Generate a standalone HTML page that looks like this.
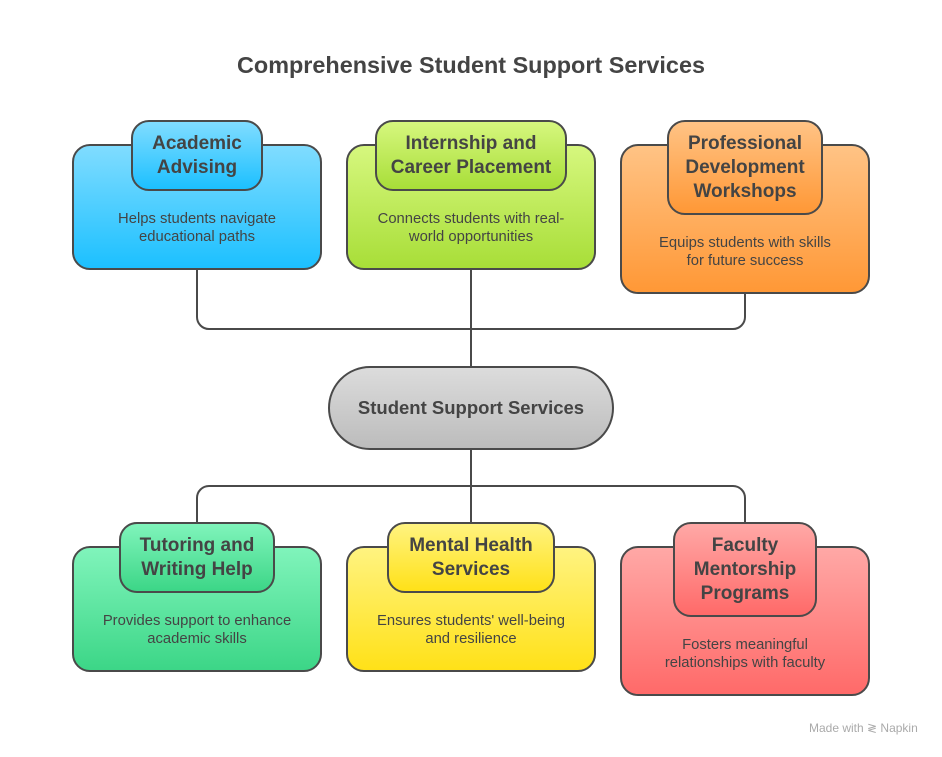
<!DOCTYPE html>
<html><head><meta charset="utf-8"><style>
body{margin:0;width:942px;height:757px;background:#fff;font-family:"Liberation Sans",sans-serif;position:relative;overflow:hidden;color:#444}
.a{position:absolute;box-sizing:border-box;border:2px solid #4a4a4a;display:flex;align-items:center;justify-content:center;text-align:center}
.o{border-radius:18px}
.h{border-radius:18px;font-weight:bold;font-size:19px;line-height:24px;color:#444}
.t{position:absolute;text-align:center;font-size:14.8px;line-height:18px;color:#444}
</style></head><body>
<div style="position:absolute;top:52px;width:942px;text-align:center;font-size:23.4px;font-weight:bold;color:#444">Comprehensive Student Support Services</div>
<svg width="942" height="757" style="position:absolute;left:0;top:0">
<g fill="none" stroke="#4a4a4a" stroke-width="2">
<path d="M197 270 V317 a12 12 0 0 0 12 12 H733 a12 12 0 0 0 12 -12 V294"/>
<path d="M471 270 V366"/>
<path d="M471 450 V522"/>
<path d="M197 546 V498 a12 12 0 0 1 12 -12 H733 a12 12 0 0 1 12 12 V522"/>
</g></svg>
<div class="a o" style="left:72px;top:144px;width:250px;height:126px;background:linear-gradient(#80dcff,#1cc0ff)"></div>
<div class="t" style="left:72px;top:210px;width:250px">Helps students navigate<br>educational paths</div>
<div class="a h" style="left:131px;top:120px;width:132px;height:71px;background:linear-gradient(#80dcff,#1cc0ff)">Academic<br>Advising</div>

<div class="a o" style="left:346px;top:144px;width:250px;height:126px;background:linear-gradient(#d6f77e,#a8de38)"></div>
<div class="t" style="left:346px;top:210px;width:250px">Connects students with real-<br>world opportunities</div>
<div class="a h" style="left:375px;top:120px;width:192px;height:71px;background:linear-gradient(#d6f77e,#a8de38)">Internship and<br>Career Placement</div>

<div class="a o" style="left:620px;top:144px;width:250px;height:150px;background:linear-gradient(#ffc385,#ff9836)"></div>
<div class="t" style="left:620px;top:234px;width:250px">Equips students with skills<br>for future success</div>
<div class="a h" style="left:667px;top:120px;width:156px;height:95px;background:linear-gradient(#ffc385,#ff9836)">Professional<br>Development<br>Workshops</div>

<div class="a" style="left:328px;top:366px;width:286px;height:84px;border-radius:42px;background:linear-gradient(#dcdcdc,#bcbcbc);font-weight:bold;font-size:18.5px">Student Support Services</div>

<div class="a o" style="left:72px;top:546px;width:250px;height:126px;background:linear-gradient(#80f4bb,#3cd687)"></div>
<div class="t" style="left:72px;top:612px;width:250px">Provides support to enhance<br>academic skills</div>
<div class="a h" style="left:119px;top:522px;width:156px;height:71px;background:linear-gradient(#80f4bb,#3cd687)">Tutoring and<br>Writing Help</div>

<div class="a o" style="left:346px;top:546px;width:250px;height:126px;background:linear-gradient(#fff380,#ffe118)"></div>
<div class="t" style="left:346px;top:612px;width:250px">Ensures students' well-being<br>and resilience</div>
<div class="a h" style="left:387px;top:522px;width:168px;height:71px;background:linear-gradient(#fff380,#ffe118)">Mental Health<br>Services</div>

<div class="a o" style="left:620px;top:546px;width:250px;height:150px;background:linear-gradient(#ffa8a6,#ff6a69)"></div>
<div class="t" style="left:620px;top:636px;width:250px">Fosters meaningful<br>relationships with faculty</div>
<div class="a h" style="left:673px;top:522px;width:144px;height:95px;background:linear-gradient(#ffa8a6,#ff6a69)">Faculty<br>Mentorship<br>Programs</div>

<div style="position:absolute;left:809px;top:721px;font-size:12px;color:#aaa">Made with ≷ Napkin</div>
</body></html>
